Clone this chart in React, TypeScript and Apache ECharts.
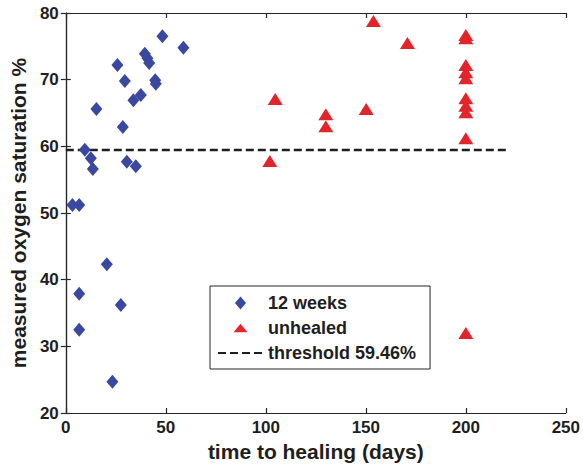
import React, { useEffect, useRef } from "react";
import * as echarts from "echarts";

// Time to healing (days) and measured oxygen saturation (%) per wound
const healedDays = [3.3, 6.7, 20.5, 6.7, 27.5, 6.7, 23.3, 48.3, 58.8, 25.8, 39.5, 40.8, 41.7, 29.5, 44.7, 45, 37.5, 33.8, 15.3, 28.5, 9.5, 12.5, 13.5, 30.5, 35];
const healedSat = [51.2, 51.2, 42.3, 37.9, 36.2, 32.5, 24.7, 76.5, 74.8, 72.2, 73.9, 73.2, 72.5, 69.8, 69.9, 69.4, 67.7, 66.9, 65.6, 62.9, 59.5, 58.2, 56.6, 57.7, 57.0];

const unhealedDays = [102, 104.7, 130, 130, 150.2, 153.8, 170.8, 200, 200, 200, 200, 200, 200, 200, 200, 200, 200];
const unhealedSat = [57.8, 67.1, 64.8, 63.0, 65.6, 78.8, 75.5, 76.7, 76.2, 72.2, 71.1, 70.2, 67.2, 66.1, 65.1, 61.2, 32.0];

const thresholdValue = 59.46;
const thresholdSpan = [0, 220];

const seriesNames = ["12 weeks", "unhealed", "threshold 59.46%"];

const FONT = "'Liberation Sans', Arial, Helvetica, sans-serif";
const AXIS_COLOR = "#262626";
const TEXT_COLOR = "#1e1e1e";
const BLUE = "#3a48a0";
const RED = "#e4232a";

// Legend glyphs with fixed aspect ratio; the triangle carries zero-length
// segments above and below so it scales to a flatter shape in the legend row
const DIAMOND_ICON = "path://M6,0 L12,7 L6,14 L0,7 Z";
const TRIANGLE_ICON = "path://M7.5,0 L7.5,0 M7.5,14 L7.5,14 M7.5,2.5 L15,11.5 L0,11.5 Z";

export default function App() {
  const ref = useRef<HTMLDivElement>(null);

  useEffect(() => {
    if (!ref.current) return;
    const chart = echarts.init(ref.current, null, { renderer: "svg" });

    const tickCommon = {
      axisLine: { show: true, lineStyle: { color: AXIS_COLOR, width: 1.2 } },
      axisTick: { show: true, inside: true, length: 5, lineStyle: { color: AXIS_COLOR, width: 1.2 } },
      splitLine: { show: false },
    };

    chart.setOption({
      animation: false,
      backgroundColor: "#ffffff",
      textStyle: { fontFamily: FONT },
      grid: { left: 65, right: 17, top: 13, bottom: 54, containLabel: false },
      legend: {
        orient: "vertical",
        left: 210,
        top: 286,
        data: [
          { name: seriesNames[0], icon: DIAMOND_ICON },
          { name: seriesNames[1], icon: TRIANGLE_ICON },
          { name: seriesNames[2], itemStyle: { opacity: 0 } },
        ],
        symbolKeepAspect: true,
        backgroundColor: "#ffffff",
        borderColor: AXIS_COLOR,
        borderWidth: 1,
        borderRadius: 0,
        padding: [8, 14, 7, 7],
        itemWidth: 45,
        itemHeight: 13,
        itemGap: 7,
        textStyle: { fontFamily: FONT, fontWeight: "bold", fontSize: 18, color: TEXT_COLOR },
      },
      xAxis: [
        {
          type: "value",
          min: 0,
          max: 250,
          interval: 50,
          name: "time to healing (days)",
          nameLocation: "middle",
          nameGap: 28,
          nameTextStyle: { fontFamily: FONT, fontWeight: "bold", fontSize: 21, color: TEXT_COLOR },
          axisLabel: { margin: 6, fontFamily: FONT, fontWeight: "bold", fontSize: 17, color: TEXT_COLOR },
          ...tickCommon,
        },
        {
          type: "value",
          position: "top",
          min: 0,
          max: 250,
          interval: 50,
          axisLabel: { show: false },
          ...tickCommon,
        },
      ],
      yAxis: [
        {
          type: "value",
          min: 20,
          max: 80,
          interval: 10,
          name: "measured oxygen saturation %",
          nameLocation: "middle",
          nameGap: 34,
          nameTextStyle: { fontFamily: FONT, fontWeight: "bold", fontSize: 21, color: TEXT_COLOR },
          axisLabel: { margin: 7, fontFamily: FONT, fontWeight: "bold", fontSize: 17, color: TEXT_COLOR },
          ...tickCommon,
        },
        {
          type: "value",
          position: "right",
          min: 20,
          max: 80,
          interval: 10,
          axisLabel: { show: false },
          ...tickCommon,
        },
      ],
      series: [
        {
          name: seriesNames[0],
          type: "scatter",
          symbol: "diamond",
          symbolSize: [12, 14],
          itemStyle: { color: BLUE, opacity: 1 },
          data: healedDays.map((d, i) => [d, healedSat[i]]),
          z: 3,
        },
        {
          name: seriesNames[1],
          type: "scatter",
          symbol: "triangle",
          symbolSize: [15, 12],
          itemStyle: { color: RED, opacity: 1 },
          data: unhealedDays.map((d, i) => [d, unhealedSat[i]]),
          z: 3,
        },
        {
          name: seriesNames[2],
          type: "line",
          symbol: "none",
          lineStyle: { color: "#1e1e1e", width: 2.5, type: [8, 4] },
          itemStyle: { color: "#1e1e1e" },
          data: thresholdSpan.map((d) => [d, thresholdValue]),
          z: 2,
        },
      ],
    });

    return () => chart.dispose();
  }, []);

  return (
    <div
      ref={ref}
      style={{ position: "absolute", left: 0, top: 0, width: 583, height: 467 }}
    />
  );
}
